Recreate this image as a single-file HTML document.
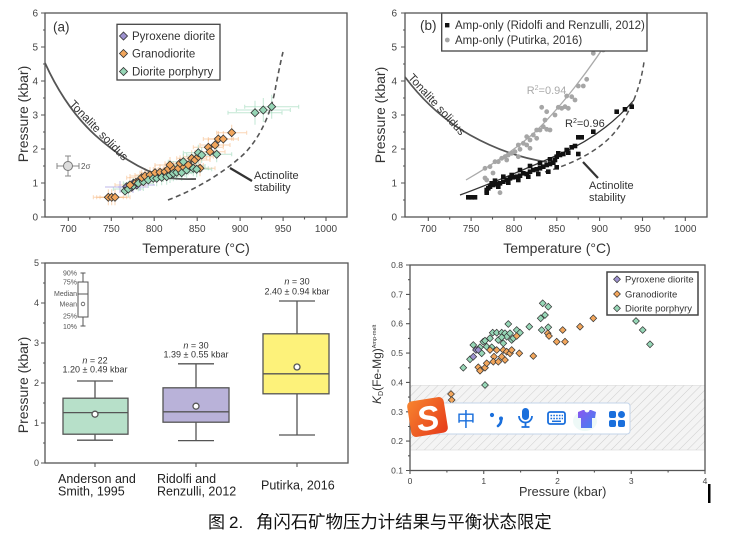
<!DOCTYPE html>
<html><head><meta charset="utf-8"><style>
html,body{margin:0;padding:0;background:#fff;}
svg{display:block;font-family:"Liberation Sans","Noto Sans CJK SC",sans-serif;}
</style></head><body>
<svg width="745" height="550" viewBox="0 0 745 550" xmlns="http://www.w3.org/2000/svg">
<defs>
<path id="ao" d="M0,-4L4,0L0,4L-4,0Z" fill="#f2a65c" stroke="#333" stroke-width="0.8"/>
<path id="ag" d="M0,-4L4,0L0,4L-4,0Z" fill="#96d6b6" stroke="#333" stroke-width="0.8"/>
<path id="ap" d="M0,-4L4,0L0,4L-4,0Z" fill="#9d92cf" stroke="#333" stroke-width="0.8"/>
<path id="do" d="M0,-3.4L3.4,0L0,3.4L-3.4,0Z" fill="#f2a65c" stroke="#333" stroke-width="0.7"/>
<path id="dg" d="M0,-3.4L3.4,0L0,3.4L-3.4,0Z" fill="#96d6b6" stroke="#333" stroke-width="0.7"/>
<path id="dp" d="M0,-3.4L3.4,0L0,3.4L-3.4,0Z" fill="#9d92cf" stroke="#333" stroke-width="0.7"/>
<path id="eo" d="M-15,0H15M0,-8V8M-15,-2V2M15,-2V2" stroke="#f5b47a" stroke-opacity="0.55" stroke-width="1" fill="none"/>
<path id="eg" d="M-15,0H15M0,-8V8M-15,-2V2M15,-2V2" stroke="#8fd3b0" stroke-opacity="0.55" stroke-width="1" fill="none"/>
<path id="ep" d="M-15,0H15M0,-6V6" stroke="#a89ee0" stroke-opacity="0.6" stroke-width="1.2" fill="none"/>
<path id="egL" d="M-27,0H27M0,-12V12M-27,-2V2M27,-2V2" stroke="#8fd3b0" stroke-opacity="0.55" stroke-width="1" fill="none"/>
<rect id="bs" x="-2.3" y="-2.3" width="4.6" height="4.6" fill="#111"/>
<circle id="gc" r="2.4" fill="#a6a6a6"/>
<pattern id="hatch" width="6" height="6" patternUnits="userSpaceOnUse" patternTransform="rotate(45)">
<line x1="0" y1="0" x2="0" y2="6" stroke="#c4c4c4" stroke-width="0.8"/>
</pattern>
<linearGradient id="sg" x1="0" y1="0" x2="1" y2="1"><stop offset="0" stop-color="#f7842f"/><stop offset="1" stop-color="#e63a1a"/></linearGradient>
<linearGradient id="shg" x1="0" y1="0" x2="1" y2="1"><stop offset="0" stop-color="#8a55f0"/><stop offset="1" stop-color="#3f86f0"/></linearGradient>
</defs>

<!-- ================= PANEL A ================= -->
<g>
<!-- error bars -->
<g>
<use href="#eo" x="108.3" y="197.3"/><use href="#eo" x="111.7" y="197.3"/><use href="#eo" x="115" y="197.3"/>
<use href="#eo" x="231.7" y="132.7"/><use href="#eo" x="218.3" y="139"/><use href="#eo" x="223.3" y="139"/>
<use href="#eo" x="210" y="151.7"/><use href="#eo" x="208.3" y="147.3"/><use href="#eo" x="215" y="145"/>
<use href="#eo" x="195" y="160"/><use href="#eo" x="198.3" y="156.7"/><use href="#eo" x="191.7" y="158.3"/>
<use href="#eo" x="188.3" y="165"/><use href="#eo" x="183.3" y="166.7"/><use href="#eo" x="178.3" y="168.3"/>
<use href="#eo" x="173.3" y="169"/><use href="#eo" x="168.3" y="169"/><use href="#eo" x="165" y="171.7"/>
<use href="#eo" x="160" y="172.3"/><use href="#eo" x="155" y="172.7"/><use href="#eo" x="150" y="175"/>
<use href="#eo" x="145" y="176"/><use href="#eo" x="141.7" y="177.7"/><use href="#eo" x="130" y="185"/>
<use href="#eo" x="170" y="165"/><use href="#eo" x="180" y="163.3"/><use href="#eo" x="200" y="168.3"/>
<use href="#egL" x="255" y="112.7"/><use href="#egL" x="263.3" y="110"/><use href="#egL" x="271.7" y="106.7"/>
<use href="#eg" x="216.7" y="154.3"/><use href="#eg" x="198.3" y="152.7"/><use href="#eg" x="201.7" y="155"/>
<use href="#eg" x="190" y="166"/><use href="#eg" x="193.3" y="168.3"/><use href="#eg" x="186.7" y="170"/>
<use href="#eg" x="181.7" y="172.7"/><use href="#eg" x="176.7" y="172.3"/><use href="#eg" x="173.3" y="173.3"/>
<use href="#eg" x="170" y="175"/><use href="#eg" x="166.7" y="176.7"/><use href="#eg" x="161.7" y="177.3"/>
<use href="#eg" x="156.7" y="178.3"/><use href="#eg" x="148.3" y="180"/><use href="#eg" x="138.3" y="183.3"/>
<use href="#eg" x="128.3" y="189"/><use href="#eg" x="183.3" y="161.7"/><use href="#eg" x="196.7" y="169.3"/>
<use href="#ep" x="120" y="187"/><use href="#ep" x="133" y="187"/><use href="#ep" x="140" y="185"/>
</g>
<!-- curves -->
<path d="M45,63 C55,85 70,112 95,135 C115,153 140,170 165,177 C178,180 190,179 196,179" fill="none" stroke="#555" stroke-width="1.8"/>
<path d="M168,200 C195,190 225,172 245,153 C262,135 272,110 276,85 C279,70 281,60 283,52" fill="none" stroke="#555" stroke-width="1.6" stroke-dasharray="5,3.5"/>
<!-- points -->
<g>
<use href="#ao" x="108.3" y="197.3"/><use href="#ao" x="111.7" y="197.3"/><use href="#ao" x="115" y="197.3"/>
<use href="#ap" x="126.7" y="186.7"/><use href="#ap" x="131.7" y="187.3"/><use href="#ap" x="136.7" y="185"/><use href="#ap" x="133.3" y="183.3"/>
<use href="#ag" x="125" y="191"/><use href="#ag" x="128.3" y="189"/><use href="#ag" x="133.3" y="185.7"/>
<use href="#ao" x="130" y="185"/><use href="#ao" x="136" y="182.3"/><use href="#ao" x="139.3" y="180.7"/>
<use href="#ag" x="138.3" y="183.3"/><use href="#ag" x="143.3" y="181.7"/>
<use href="#ao" x="141.7" y="177.7"/><use href="#ao" x="145" y="176"/><use href="#ao" x="150" y="175"/>
<use href="#ag" x="148.3" y="180"/><use href="#ag" x="153.3" y="178.3"/><use href="#ag" x="156.7" y="178.3"/>
<use href="#ao" x="155" y="172.7"/><use href="#ao" x="160" y="172.3"/><use href="#ao" x="165" y="171.7"/>
<use href="#ag" x="161.7" y="177.3"/><use href="#ag" x="166.7" y="176.7"/><use href="#ag" x="170" y="175"/>
<use href="#ao" x="168.3" y="169"/><use href="#ao" x="173.3" y="169"/><use href="#ao" x="170" y="165"/>
<use href="#ag" x="173.3" y="173.3"/><use href="#ag" x="176.7" y="172.3"/><use href="#ag" x="181.7" y="172.7"/>
<use href="#ao" x="178.3" y="168.3"/><use href="#ao" x="183.3" y="166.7"/><use href="#ao" x="180" y="163.3"/>
<use href="#ag" x="186.7" y="170"/><use href="#ag" x="190" y="166"/><use href="#ag" x="193.3" y="168.3"/>
<use href="#ao" x="188.3" y="165"/><use href="#ao" x="191.7" y="158.3"/><use href="#ao" x="195" y="160"/>
<use href="#ao" x="198.3" y="156.7"/><use href="#ao" x="200" y="168.3"/>
<use href="#ag" x="183.3" y="161.7"/><use href="#ag" x="196.7" y="169.3"/>
<use href="#ag" x="198.3" y="152.7"/><use href="#ag" x="201.7" y="155"/>
<use href="#ao" x="208.3" y="147.3"/><use href="#ao" x="210" y="151.7"/><use href="#ao" x="215" y="145"/>
<use href="#ag" x="216.7" y="154.3"/>
<use href="#ao" x="218.3" y="139"/><use href="#ao" x="223.3" y="139"/><use href="#ao" x="231.7" y="132.7"/>
<use href="#ag" x="255" y="112.7"/><use href="#ag" x="263.3" y="110"/><use href="#ag" x="271.7" y="106.7"/>
</g>
<!-- leader -->
<path d="M230,168 L252,181" stroke="#333" stroke-width="2.2" fill="none"/>
<text x="254" y="179" font-size="11" fill="#333">Actinolite</text>
<text x="254" y="191" font-size="11" fill="#333">stability</text>
<text transform="translate(96,133) rotate(46)" text-anchor="middle" font-size="11.5" fill="#333">Tonalite solidus</text>
<!-- 2 sigma -->
<path d="M57,166H79M57,163V169M79,163V169M68,156V176M65,156H71M65,176H71" stroke="#888" stroke-width="1" fill="none"/>
<circle cx="68" cy="166" r="4.5" fill="#ddd" stroke="#777" stroke-width="1"/>
<text x="81" y="169" font-size="8" fill="#555">2σ</text>
<!-- legend -->
<rect x="117" y="24.3" width="103" height="55.7" fill="#fff" stroke="#444" stroke-width="1.3"/>
<use href="#ap" x="123.5" y="36"/><text x="132" y="40" font-size="11.5" fill="#333">Pyroxene diorite</text>
<use href="#ao" x="123.5" y="53.5"/><text x="132" y="57.5" font-size="11.5" fill="#333">Granodiorite</text>
<use href="#ag" x="123.5" y="71.5"/><text x="132" y="75.5" font-size="11.5" fill="#333">Diorite  porphyry</text>
<text x="53" y="31.5" font-size="13.5" fill="#333">(a)</text>
<!-- frame & axes -->
<rect x="45" y="13" width="302" height="204" fill="none" stroke="#555" stroke-width="1.3"/>
<path d="M41,217H45M41,183H45M41,149H45M41,115H45M41,81H45M41,47H45M41,13H45M43,200H45M43,166H45M43,132H45M43,98H45M43,64H45M43,30H45" stroke="#555" stroke-width="1.1"/>
<path d="M68.3,217V221M111.3,217V221M154.2,217V221M197.2,217V221M240.1,217V221M283.1,217V221M326,217V221M89.8,217V219.5M132.7,217V219.5M175.7,217V219.5M218.6,217V219.5M261.6,217V219.5M304.5,217V219.5" stroke="#555" stroke-width="1.1"/>
<g font-size="10" fill="#444" text-anchor="end">
<text x="38" y="220.5">0</text><text x="38" y="186.5">1</text><text x="38" y="152.5">2</text><text x="38" y="118.5">3</text><text x="38" y="84.5">4</text><text x="38" y="50.5">5</text><text x="38" y="16.5">6</text>
</g>
<g font-size="10" fill="#444" text-anchor="middle">
<text x="68.3" y="232">700</text><text x="111.3" y="232">750</text><text x="154.2" y="232">800</text><text x="197.2" y="232">850</text><text x="240.1" y="232">900</text><text x="283.1" y="232">950</text><text x="326" y="232">1000</text>
</g>
<text transform="translate(28,114) rotate(-90)" text-anchor="middle" font-size="14" fill="#333">Pressure (kbar)</text>
<text x="196" y="253" text-anchor="middle" font-size="14" fill="#333">Temperature (°C)</text>
</g>

<!-- ================= PANEL B ================= -->
<g>
<path d="M405,77 C420,97 440,118 470,135 C495,149 520,158 547,162" fill="none" stroke="#555" stroke-width="1.7"/>
<path d="M545,172 C575,163 600,150 615,132 C630,113 640,90 644,62" fill="none" stroke="#555" stroke-width="1.5" stroke-dasharray="5,3.5"/>
<path d="M466,180 C490,166 515,150 535,132 C560,108 590,70 618,25" fill="none" stroke="#aaa" stroke-width="1.3"/>
<path d="M460,195 C490,184 530,167 560,154 C590,141 615,122 634,100" fill="none" stroke="#333" stroke-width="1.3"/>
<g>
<use href="#gc" x="500" y="192.7"/><use href="#gc" x="486.7" y="192.7"/><use href="#gc" x="486.7" y="180"/><use href="#gc" x="490" y="166.7"/>
<use href="#gc" x="495" y="161.7"/><use href="#gc" x="498.3" y="161.7"/><use href="#gc" x="501.7" y="158.3"/><use href="#gc" x="505" y="156.7"/>
<use href="#gc" x="508.3" y="155"/><use href="#gc" x="511.7" y="153.3"/><use href="#gc" x="515" y="151.7"/><use href="#gc" x="518.3" y="145"/>
<use href="#gc" x="520" y="149.3"/><use href="#gc" x="523.3" y="143.3"/><use href="#gc" x="526.7" y="136.7"/><use href="#gc" x="530" y="140"/>
<use href="#gc" x="533.3" y="135"/><use href="#gc" x="536.7" y="138.3"/><use href="#gc" x="540" y="130"/><use href="#gc" x="543.3" y="126.7"/>
<use href="#gc" x="546.7" y="129.3"/><use href="#gc" x="550" y="130"/><use href="#gc" x="545" y="120"/><use href="#gc" x="541.7" y="107.3"/>
<use href="#gc" x="546.7" y="111.7"/><use href="#gc" x="555" y="115"/><use href="#gc" x="558.3" y="107.3"/><use href="#gc" x="561.7" y="108.3"/>
<use href="#gc" x="565" y="106.7"/><use href="#gc" x="568.3" y="108.3"/><use href="#gc" x="566.7" y="96"/><use href="#gc" x="575" y="100"/>
<use href="#gc" x="571.7" y="96.7"/><use href="#gc" x="578.3" y="86"/><use href="#gc" x="583.3" y="86"/><use href="#gc" x="586.7" y="79.3"/>
<use href="#gc" x="593.3" y="53.3"/><use href="#gc" x="603.3" y="50"/><use href="#gc" x="613.3" y="46"/><use href="#gc" x="518.3" y="156.7"/>
<use href="#gc" x="506.7" y="160"/><use href="#gc" x="485" y="168.3"/><use href="#gc" x="526.7" y="145"/><use href="#gc" x="530" y="148.3"/>
<use href="#gc" x="536.7" y="130"/><use href="#gc" x="485" y="178"/><use href="#gc" x="493" y="173"/>
</g>
<g>
<use href="#bs" x="468.3" y="197.3"/><use href="#bs" x="471.7" y="197.3"/><use href="#bs" x="475" y="197.3"/><use href="#bs" x="486.7" y="192.7"/>
<use href="#bs" x="490" y="186.7"/><use href="#bs" x="493.3" y="185"/><use href="#bs" x="496.7" y="184"/><use href="#bs" x="500" y="183.3"/>
<use href="#bs" x="503.3" y="181.7"/><use href="#bs" x="506.7" y="180"/><use href="#bs" x="510" y="178.3"/><use href="#bs" x="513.3" y="177.3"/>
<use href="#bs" x="516.7" y="176.7"/><use href="#bs" x="520" y="175.7"/><use href="#bs" x="523.3" y="173.3"/><use href="#bs" x="526.7" y="174"/>
<use href="#bs" x="530" y="171.7"/><use href="#bs" x="533.3" y="170"/><use href="#bs" x="536.7" y="169.3"/><use href="#bs" x="540" y="168.3"/>
<use href="#bs" x="543.3" y="166.7"/><use href="#bs" x="546.7" y="165"/><use href="#bs" x="550" y="164"/><use href="#bs" x="553.3" y="162.7"/>
<use href="#bs" x="556.7" y="156.7"/><use href="#bs" x="560" y="155"/><use href="#bs" x="563.3" y="154"/><use href="#bs" x="568.3" y="152.7"/>
<use href="#bs" x="571.7" y="147.3"/><use href="#bs" x="575" y="146"/><use href="#bs" x="578.3" y="137.3"/><use href="#bs" x="581.7" y="137.3"/>
<use href="#bs" x="593.3" y="131.7"/><use href="#bs" x="616.7" y="111.7"/><use href="#bs" x="625" y="109.3"/><use href="#bs" x="631.7" y="106.7"/>
<use href="#bs" x="578.3" y="154"/><use href="#bs" x="488.3" y="188.3"/><use href="#bs" x="498.3" y="186.7"/><use href="#bs" x="508.3" y="182.7"/>
<use href="#bs" x="518.3" y="180"/><use href="#bs" x="528.3" y="176.7"/><use href="#bs" x="538.3" y="174"/><use href="#bs" x="548.3" y="171.7"/>
<use href="#bs" x="556.7" y="167.3"/><use href="#bs" x="555" y="160"/><use href="#bs" x="558.3" y="153.3"/><use href="#bs" x="566.7" y="150"/>
<use href="#bs" x="550" y="159.3"/><use href="#bs" x="540" y="163.3"/><use href="#bs" x="530" y="166"/><use href="#bs" x="520" y="170"/>
<use href="#bs" x="511.7" y="175"/><use href="#bs" x="503.3" y="176.7"/><use href="#bs" x="495" y="180.7"/><use href="#bs" x="491.7" y="183.3"/>
<use href="#bs" x="486.7" y="190"/>
</g>
<text x="526.7" y="94" font-size="11" fill="#aaa">R<tspan font-size="7" dy="-4">2</tspan><tspan dy="4">=0.94</tspan></text>
<text x="565" y="127" font-size="11" fill="#333">R<tspan font-size="7" dy="-4">2</tspan><tspan dy="4">=0.96</tspan></text>
<path d="M583,162 L598,178" stroke="#333" stroke-width="2.2" fill="none"/>
<text x="589" y="189" font-size="11" fill="#333">Actinolite</text>
<text x="589" y="201" font-size="11" fill="#333">stability</text>
<text transform="translate(434,107) rotate(47.5)" text-anchor="middle" font-size="11.5" fill="#333">Tonalite solidus</text>
<!-- legend -->
<rect x="441.7" y="13" width="205.3" height="38" fill="#fff" stroke="#444" stroke-width="1.3"/>
<rect x="445" y="23" width="4.4" height="4.4" fill="#111"/>
<text x="455" y="29" font-size="11.5" fill="#333">Amp-only (Ridolfi and Renzulli, 2012)</text>
<circle cx="447.3" cy="40" r="2.4" fill="#a6a6a6"/>
<text x="455" y="44" font-size="11.5" fill="#333">Amp-only (Putirka, 2016)</text>
<text x="420" y="30" font-size="13.5" fill="#333">(b)</text>
<rect x="405" y="13" width="302" height="204" fill="none" stroke="#555" stroke-width="1.3"/>
<path d="M401,217H405M401,183H405M401,149H405M401,115H405M401,81H405M401,47H405M401,13H405M403,200H405M403,166H405M403,132H405M403,98H405M403,64H405M403,30H405" stroke="#555" stroke-width="1.1"/>
<path d="M428.3,217V221M471.1,217V221M514,217V221M556.8,217V221M599.6,217V221M642.5,217V221M685.3,217V221M449.7,217V219.5M492.5,217V219.5M535.4,217V219.5M578.2,217V219.5M621.1,217V219.5M663.9,217V219.5" stroke="#555" stroke-width="1.1"/>
<g font-size="10" fill="#444" text-anchor="end">
<text x="397" y="220.5">0</text><text x="397" y="186.5">1</text><text x="397" y="152.5">2</text><text x="397" y="118.5">3</text><text x="397" y="84.5">4</text><text x="397" y="50.5">5</text><text x="397" y="16.5">6</text>
</g>
<g font-size="10" fill="#444" text-anchor="middle">
<text x="428.3" y="232">700</text><text x="471.1" y="232">750</text><text x="514" y="232">800</text><text x="556.8" y="232">850</text><text x="599.6" y="232">900</text><text x="642.5" y="232">950</text><text x="685.3" y="232">1000</text>
</g>
<text transform="translate(385,115) rotate(-90)" text-anchor="middle" font-size="14" fill="#333">Pressure (kbar)</text>
<text x="557" y="253" text-anchor="middle" font-size="14" fill="#333">Temperature (°C)</text>
</g>

<!-- ================= PANEL C (boxplot) ================= -->
<g stroke="#555" stroke-width="1.3">
<!-- box 1 -->
<path d="M95,381V398.2M95,434.2V440.2M77,381H113M77,440.2H113" fill="none"/>
<rect x="63" y="398.2" width="65" height="36" fill="#b7e0c9"/>
<path d="M63,412.6H128" fill="none"/>
<circle cx="95" cy="414.2" r="3" fill="#fff"/>
<!-- box 2 -->
<path d="M196,363.8V387.8M196,422.2V440.6M178,363.8H214M178,440.6H214" fill="none"/>
<rect x="163" y="387.8" width="66" height="34.4" fill="#b9b2d9"/>
<path d="M163,411.8H229" fill="none"/>
<circle cx="196" cy="406.2" r="3" fill="#fff"/>
<!-- box 3 -->
<path d="M297,301V333.8M297,393.8V435M279,301H315M279,435H315" fill="none"/>
<rect x="263" y="333.8" width="66" height="60" fill="#fdf27a"/>
<path d="M263,373.8H329" fill="none"/>
<circle cx="297" cy="367" r="3" fill="#fff"/>
<!-- inset legend -->
<path d="M83,273V282M83,317V326M80.5,273H85.5M80.5,326H85.5" fill="none" stroke-width="1"/>
<rect x="78" y="282" width="10" height="35" fill="#fff" stroke-width="1"/>
<path d="M78,294H88" fill="none" stroke-width="1"/>
<circle cx="83" cy="304" r="1.8" fill="#fff" stroke-width="0.8"/>
</g>
<g font-size="7" fill="#555" text-anchor="end">
<text x="77" y="275.5">90%</text><text x="77" y="284.5">75%</text><text x="77" y="296">Median</text><text x="77" y="306.5">Mean</text><text x="77" y="318.5">25%</text><text x="77" y="329">10%</text>
</g>
<g font-size="9" fill="#333" text-anchor="middle">
<text x="95" y="363.5"><tspan font-style="italic">n</tspan> = 22</text>
<text x="95" y="372.5">1.20 ± 0.49 kbar</text>
<text x="196" y="348.5"><tspan font-style="italic">n</tspan> = 30</text>
<text x="196" y="357.5">1.39 ± 0.55 kbar</text>
<text x="297" y="284.5"><tspan font-style="italic">n</tspan> = 30</text>
<text x="297" y="294.5">2.40 ± 0.94 kbar</text>
</g>
<rect x="45" y="263" width="303" height="200" fill="none" stroke="#555" stroke-width="1.3"/>
<path d="M41,463H45M41,423H45M41,383H45M41,343H45M41,303H45M41,263H45M43,443H45M43,403H45M43,363H45M43,323H45M43,283H45M95,463V467M196,463V467M297,463V467" stroke="#555" stroke-width="1.1"/>
<g font-size="9" fill="#444" text-anchor="end">
<text x="39" y="466">0</text><text x="39" y="426">1</text><text x="39" y="386">2</text><text x="39" y="346">3</text><text x="39" y="306">4</text><text x="39" y="266">5</text>
</g>
<text transform="translate(28,385) rotate(-90)" text-anchor="middle" font-size="14" fill="#333">Pressure (kbar)</text>
<g font-size="12.5" fill="#222">
<text x="58" y="483">Anderson and</text><text x="58" y="495.5">Smith, 1995</text>
<text x="157" y="483">Ridolfi and</text><text x="157" y="495.5">Renzulli, 2012</text>
<text x="261" y="489.5">Putirka, 2016</text>
</g>

<!-- ================= PANEL D ================= -->
<g>
<rect x="410" y="385.4" width="295" height="64.6" fill="#f4f4f4" stroke="#e2e2e2" stroke-width="0.8"/>
<rect x="410" y="385.4" width="295" height="64.6" fill="url(#hatch)"/>
<g>
<use href="#do" x="451" y="394"/><use href="#do" x="451.7" y="400"/>
<use href="#dg" x="463.3" y="367.7"/><use href="#dg" x="473.3" y="345"/><use href="#dg" x="470" y="359.3"/><use href="#dg" x="480" y="347.3"/>
<use href="#dg" x="483.3" y="341.7"/><use href="#dg" x="485" y="340.7"/><use href="#dg" x="486.7" y="346.7"/><use href="#dg" x="491.7" y="347.3"/>
<use href="#dg" x="492.7" y="332.7"/><use href="#dg" x="496.7" y="332.7"/><use href="#dg" x="501.7" y="332.7"/><use href="#dg" x="505" y="333.3"/>
<use href="#dg" x="506.7" y="336.7"/><use href="#dg" x="508.3" y="324"/><use href="#dg" x="510" y="333.3"/><use href="#dg" x="511.7" y="340"/>
<use href="#dg" x="516.7" y="330"/><use href="#dg" x="520" y="332.7"/><use href="#dg" x="529.3" y="326.7"/><use href="#dg" x="540.7" y="318.3"/>
<use href="#dg" x="542.7" y="303.3"/><use href="#dg" x="545" y="315"/><use href="#dg" x="548.3" y="306.7"/><use href="#dg" x="541.7" y="330"/>
<use href="#dg" x="548.3" y="327.3"/><use href="#dg" x="485" y="385"/><use href="#dg" x="481.7" y="353.3"/><use href="#dg" x="503.3" y="343.3"/>
<use href="#dg" x="513.3" y="338.3"/><use href="#dg" x="498.3" y="340"/><use href="#dg" x="490" y="338.3"/><use href="#dg" x="636" y="321"/>
<use href="#dg" x="642.7" y="330"/><use href="#dg" x="650" y="344.3"/><use href="#dg" x="501.7" y="337.3"/>
<use href="#do" x="478.3" y="367.3"/><use href="#do" x="480" y="370.7"/><use href="#do" x="485" y="367.7"/><use href="#do" x="494" y="356.7"/>
<use href="#do" x="496.7" y="350"/><use href="#do" x="493.3" y="361.7"/><use href="#do" x="498.3" y="361.7"/><use href="#do" x="501.7" y="356.7"/>
<use href="#do" x="503.3" y="350"/><use href="#do" x="505" y="360"/><use href="#do" x="506.7" y="351.7"/><use href="#do" x="510" y="353.3"/>
<use href="#do" x="511.7" y="350"/><use href="#do" x="516.7" y="336"/><use href="#do" x="519.3" y="353.3"/><use href="#do" x="533.3" y="356"/>
<use href="#do" x="547.7" y="333.3"/><use href="#do" x="549" y="336"/><use href="#do" x="556.7" y="341.7"/><use href="#do" x="562.7" y="330"/>
<use href="#do" x="565" y="341.7"/><use href="#do" x="580" y="326.7"/><use href="#do" x="593.3" y="318.3"/><use href="#do" x="490" y="350"/>
<use href="#do" x="486.7" y="363.3"/>
<use href="#dp" x="473.3" y="356.7"/><use href="#dp" x="476" y="350"/><use href="#dp" x="478.3" y="350"/>
</g>
<!-- legend -->
<rect x="607" y="272" width="91" height="43" fill="#fff" stroke="#444" stroke-width="1.5"/>
<use href="#dp" x="617" y="279.3"/><text x="625" y="282.6" font-size="9.5" fill="#333">Pyroxene diorite</text>
<use href="#do" x="617" y="294"/><text x="625" y="297.3" font-size="9.5" fill="#333">Granodiorite</text>
<use href="#dg" x="617" y="308.3"/><text x="625" y="311.6" font-size="9.5" fill="#333">Diorite  porphyry</text>
<rect x="410" y="265" width="295" height="205.5" fill="none" stroke="#555" stroke-width="1.3"/>
<path d="M406,470.5H410M406,441.1H410M406,411.8H410M406,382.4H410M406,353.1H410M406,323.7H410M406,294.4H410M406,265H410M408,455.8H410M408,426.5H410M408,397.1H410M408,367.8H410M408,338.4H410M408,309.1H410M408,279.7H410" stroke="#555" stroke-width="1.1"/>
<path d="M410,470.5V474M483.75,470.5V474M557.5,470.5V474M631.25,470.5V474M705,470.5V474M446.9,470.5V472.5M520.6,470.5V472.5M594.4,470.5V472.5M668.1,470.5V472.5" stroke="#555" stroke-width="1.1"/>
<g font-size="8.5" fill="#444" text-anchor="end">
<text x="403" y="473.5">0.1</text><text x="403" y="444.1">0.2</text><text x="403" y="414.8">0.3</text><text x="403" y="385.4">0.4</text><text x="403" y="356.1">0.5</text><text x="403" y="326.7">0.6</text><text x="403" y="297.4">0.7</text><text x="403" y="268">0.8</text>
</g>
<g font-size="8.5" fill="#444" text-anchor="middle">
<text x="410" y="484">0</text><text x="483.75" y="484">1</text><text x="557.5" y="484">2</text><text x="631.25" y="484">3</text><text x="705" y="484">4</text>
</g>
<text x="562.7" y="496" text-anchor="middle" font-size="12.7" fill="#333">Pressure (kbar)</text>
<text transform="translate(381,404) rotate(-90)" font-size="12" fill="#333"><tspan font-style="italic">K</tspan><tspan font-size="7" dy="2">D</tspan><tspan dy="-2">(Fe-Mg)</tspan><tspan font-size="5.5" dy="-5">Amp-melt</tspan></text>
</g>

<!-- ================= IME toolbar overlay ================= -->
<g>
<rect x="425" y="403" width="205" height="31" rx="3" fill="#fff" stroke="#c3d4ea" stroke-width="1"/>
<g transform="rotate(-9,427.5,417)">
<rect x="409" y="399" width="37" height="36" rx="5" fill="url(#sg)"/>
<text x="427.5" y="430" text-anchor="middle" font-size="34" font-weight="bold" font-style="italic" fill="#fff">S</text>
</g>
<text x="466" y="426" text-anchor="middle" font-size="19" fill="#1a6fdc" font-family="'Noto Sans CJK SC',sans-serif">中</text>
<circle cx="492" cy="415" r="2.1" fill="#1a6fdc"/>
<path d="M501,418 q1,5 -3,8" stroke="#1a6fdc" stroke-width="2.6" fill="none" stroke-linecap="round"/>
<circle cx="501" cy="418.5" r="2" fill="#1a6fdc"/>
<rect x="522" y="408" width="7" height="12" rx="3.5" fill="#1a6fdc"/>
<path d="M519,416 a6.5,6.5 0 0 0 13,0" stroke="#1a6fdc" stroke-width="1.8" fill="none"/>
<path d="M525.5,422.5V427M521.5,427H529.5" stroke="#1a6fdc" stroke-width="1.8" fill="none"/>
<rect x="548" y="412" width="17" height="12" rx="2" fill="none" stroke="#1a6fdc" stroke-width="1.8"/>
<path d="M550.5,415.5H563M550.5,418.5H563" stroke="#1a6fdc" stroke-width="1.6" stroke-dasharray="1.6,1.2"/>
<path d="M552,421.3H561" stroke="#1a6fdc" stroke-width="1.5"/>
<ellipse cx="585" cy="421" rx="12" ry="10" fill="#cfeee8" opacity="0.35"/>
<path d="M578,412 L583,410 H584.5 a2.5,2.5 0 0 0 5,0 H591 L596,412 L595,418 H592 V428 H581 V418 H578 Z" fill="url(#shg)"/>
<rect x="609" y="411" width="7" height="7" rx="2" fill="#1a6fdc"/>
<rect x="618" y="411" width="7" height="7" rx="3.5" fill="#1a6fdc"/>
<rect x="609" y="420" width="7" height="7" rx="2" fill="#1a6fdc"/>
<rect x="618" y="420" width="7" height="7" rx="2" fill="#1a6fdc"/>
</g>

<!-- cursor bar -->
<rect x="708" y="484" width="2.5" height="19" fill="#000"/>

<!-- caption -->
<text x="208" y="528" font-size="17" fill="#111" font-family="'Liberation Sans','Noto Sans CJK SC',sans-serif">图</text>
<text x="229" y="528" font-size="17" fill="#111">2.</text>
<text x="256" y="528" font-size="17.4" fill="#111" font-family="'Liberation Sans','Noto Sans CJK SC',sans-serif">角闪石矿物压力计结果与平衡状态限定</text>
</svg>
</body></html>
